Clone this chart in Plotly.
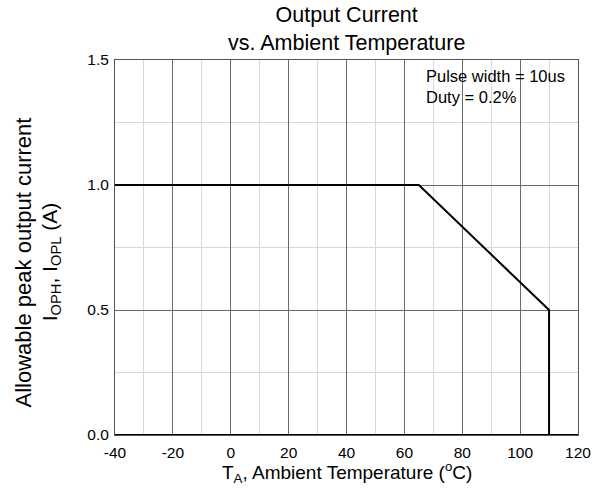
import plotly.graph_objects as go

temp = [-40, 65, 110, 110]
current = [1.0, 1.0, 0.5, 0.0]
x_ticks = [-40, -20, 0, 20, 40, 60, 80, 100, 120]
y_ticks = [0.0, 0.5, 1.0, 1.5]
y_tick_labels = ["0.0", "0.5", "1.0", "1.5"]

FONT = "Liberation Sans, Arial, sans-serif"

fig = go.Figure()
fig.add_trace(go.Scatter(x=temp, y=current, mode="lines",
                         line=dict(color="black", width=2), showlegend=False))

fig.update_layout(
    width=592, height=493,
    margin=dict(l=115, r=14, t=60, b=58, autoexpand=False),
    paper_bgcolor="white", plot_bgcolor="white",
    font=dict(family=FONT, color="black", size=15),
)
fig.update_xaxes(
    range=[-40, 120], tickvals=x_ticks, ticktext=[str(v) for v in x_ticks],
    showgrid=True, gridcolor="#6a6a6a", gridwidth=1,
    minor=dict(dtick=10, tick0=-40, showgrid=True, gridcolor="#d8d8d8", gridwidth=1),
    showline=True, linecolor="#555555", linewidth=1, mirror=True,
    zeroline=False, ticks="", ticklen=0, automargin=False,
    ticklabelstandoff=3,
    tickfont=dict(size=15.5, family=FONT),
)
fig.update_yaxes(
    range=[0, 1.5], tickvals=y_ticks, ticktext=y_tick_labels,
    showgrid=True, gridcolor="#6a6a6a", gridwidth=1,
    minor=dict(dtick=0.25, tick0=0, showgrid=True, gridcolor="#d8d8d8", gridwidth=1),
    showline=True, linecolor="#555555", linewidth=1, mirror=True,
    zeroline=False, ticks="", ticklen=0, automargin=False,
    ticklabelstandoff=2,
    tickfont=dict(size=15.5, family=FONT),
)
# bottom axis in black
fig.add_shape(type="line", xref="paper", yref="y", x0=0, x1=1, y0=0, y1=0,
              line=dict(color="black", width=2))

# title
fig.add_annotation(text="Output Current<br>vs. Ambient Temperature", xref="paper", yref="paper",
                   x=0.5, y=1, xanchor="center", yanchor="bottom", yshift=3,
                   showarrow=False, font=dict(size=21.5, family=FONT))

# x-axis title
fig.add_annotation(text="T<sub>A</sub>, Ambient Temperature (<sup>o</sup>C)", xref="paper", yref="paper",
                   x=0.5, y=0, xanchor="center", yanchor="top", yshift=-22,
                   showarrow=False, font=dict(size=19, family=FONT))

# y-axis title (two lines)
fig.add_annotation(text="Allowable peak output current", xref="paper", yref="paper",
                   x=-0.198, y=0.461, xanchor="center", yanchor="middle",
                   textangle=-90, showarrow=False, font=dict(size=22, family=FONT))
fig.add_annotation(text="I<sub>OPH</sub>, I<sub>OPL</sub> (A)", xref="paper", yref="paper",
                   x=-0.138, y=0.461, xanchor="center", yanchor="middle",
                   textangle=-90, showarrow=False, font=dict(size=21, family=FONT))

fig.add_annotation(text="Pulse width = 10us<br>Duty = 0.2%", xref="paper", yref="paper",
                   x=0.667, y=0.988, xanchor="left", yanchor="top", align="left",
                   showarrow=False, font=dict(size=16.5, family=FONT))

fig.write_html("out.html")
